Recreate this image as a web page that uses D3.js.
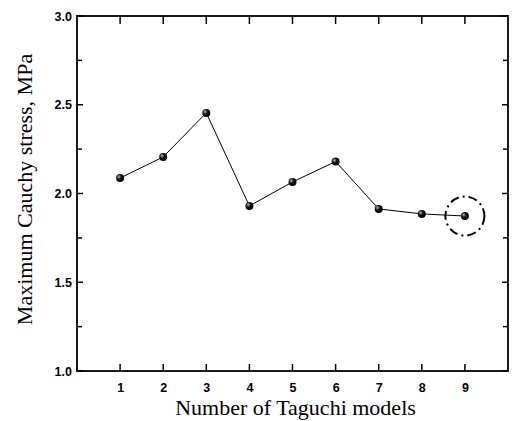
<!DOCTYPE html>
<html>
<head>
<meta charset="utf-8">
<script src="https://cdn.jsdelivr.net/npm/d3@7"></script>
<style>
  body { margin: 0; background: #fff; }
  svg { display: block; }
</style>
</head>
<body>
<div id="chart"></div>
<script>
// DATA
const models = [1, 2, 3, 4, 5, 6, 7, 8, 9];
const stress = [2.087, 2.206, 2.454, 1.93, 2.065, 2.18, 1.913, 1.885, 1.873];
const yTicks = [1.0, 1.5, 2.0, 2.5, 3.0];
const yMinor = [1.25, 1.75, 2.25, 2.75];
const highlighted = 9;

const width = 513, height = 421;
const margin = { top: 16, right: 5, bottom: 50, left: 77 };
const w = width - margin.left - margin.right;
const h = height - margin.top - margin.bottom;

const svg = d3.select('#chart').append('svg')
    .attr('width', width)
    .attr('height', height);

const defs = svg.append('defs');
const grad = defs.append('radialGradient')
    .attr('id', 'ball')
    .attr('cx', '35%').attr('cy', '35%').attr('r', '65%');
grad.append('stop').attr('offset', '0%').attr('stop-color', '#bbb');
grad.append('stop').attr('offset', '45%').attr('stop-color', '#111');
grad.append('stop').attr('offset', '100%').attr('stop-color', '#000');

const g = svg.append('g')
    .attr('transform', `translate(${margin.left},${margin.top})`);

const x = d3.scaleLinear().domain([0, 10]).range([0, w]);
const y = d3.scaleLinear().domain([1, 3]).range([h, 0]);

const tickFont = 'bold 12.5px Arial, "Liberation Sans", sans-serif';

// tick labels
const xAxis = g.append('g')
    .attr('transform', `translate(0,${h})`)
    .call(d3.axisBottom(x).tickValues(models).tickSize(0).tickPadding(12).tickFormat(d3.format('d')));
const yAxis = g.append('g')
    .call(d3.axisLeft(y).tickValues(yTicks).tickSize(0).tickPadding(5).tickFormat(d3.format('.1f')));
[xAxis, yAxis].forEach(a => {
    a.select('.domain').remove();
    a.selectAll('text').style('font', tickFont).attr('fill', '#000');
});

// frame
g.append('rect')
    .attr('width', w).attr('height', h)
    .attr('fill', 'none')
    .attr('stroke', '#000')
    .attr('stroke-width', 1.8);

// inward tick marks on all four sides
const tk = g.append('g').attr('stroke', '#000').attr('stroke-width', 1.5);
models.forEach(m => {
    tk.append('line').attr('x1', x(m)).attr('x2', x(m)).attr('y1', h).attr('y2', h - 7);
    tk.append('line').attr('x1', x(m)).attr('x2', x(m)).attr('y1', 0).attr('y2', 8);
});
yTicks.concat(yMinor).forEach(v => {
    const len = yTicks.includes(v) ? 6 : 5;
    tk.append('line').attr('x1', 0).attr('x2', len).attr('y1', y(v)).attr('y2', y(v));
    tk.append('line').attr('x1', w).attr('x2', w - len).attr('y1', y(v)).attr('y2', y(v));
});

// line
const line = d3.line()
    .x((d, i) => x(models[i]))
    .y(d => y(d));

g.append('path')
    .datum(stress)
    .attr('d', line)
    .attr('fill', 'none')
    .attr('stroke', '#000')
    .attr('stroke-width', 1);

g.selectAll('circle.pt')
    .data(stress)
    .enter().append('circle')
    .attr('class', 'pt')
    .attr('cx', (d, i) => x(models[i]))
    .attr('cy', d => y(d))
    .attr('r', 4)
    .attr('fill', 'url(#ball)');

// dash-dot circle around the best model
const hi = models.indexOf(highlighted);
g.append('circle')
    .attr('cx', x(models[hi]))
    .attr('cy', y(stress[hi]))
    .attr('r', 19.5)
    .attr('fill', 'none')
    .attr('stroke', '#000')
    .attr('stroke-width', 2)
    .attr('stroke-dasharray', '9,4,2,4');

// axis titles
svg.append('text')
    .attr('x', margin.left + x(5.0) + 3)
    .attr('y', 415)
    .attr('text-anchor', 'middle')
    .style('font', '22px "Times New Roman", "Liberation Serif", serif')
    .text('Number of Taguchi models');

svg.append('text')
    .attr('transform', `translate(32,${(52 + 327) / 2}) rotate(-90)`)
    .attr('text-anchor', 'middle')
    .style('font', '22px "Times New Roman", "Liberation Serif", serif')
    .text('Maximum Cauchy stress, MPa');
</script>
</body>
</html>
